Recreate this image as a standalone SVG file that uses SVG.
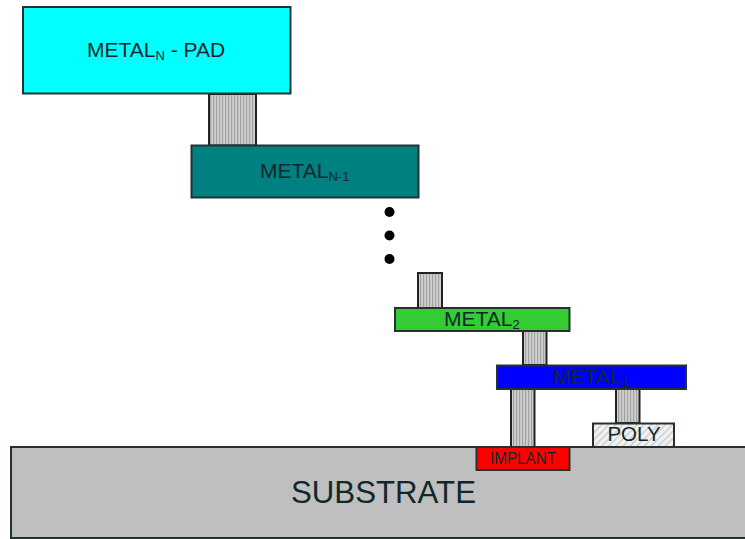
<svg xmlns="http://www.w3.org/2000/svg" width="745" height="539" viewBox="0 0 745 539">
<style>
.s{stroke:#263030;stroke-width:2}
.v{fill:url(#vh);stroke:#222;stroke-width:2}
text{font-family:"Liberation Sans",Arial,sans-serif;fill:#10282c}
</style>
<defs>
<pattern id="vh" width="3" height="8" patternUnits="userSpaceOnUse"><rect width="3" height="8" fill="#cfcfcf"/><rect width="1.200" height="8" fill="#a2a2a2"/></pattern>
<pattern id="dh" width="5" height="5" patternUnits="userSpaceOnUse" patternTransform="rotate(45)"><rect width="5" height="5" fill="#f2f2f2"/><rect width="1.500" height="5" fill="#cdcdcd"/></pattern>
</defs>
<rect width="745" height="539" fill="#fff"/>
<g id="connectors">
<rect class="v" x="209" y="94" width="47" height="51.500"/>
<rect class="v" x="418" y="273" width="24" height="35"/>
<rect class="v" x="523" y="331" width="23.500" height="34"/>
<rect class="v" x="511" y="389" width="23.500" height="58"/>
<rect class="v" x="616" y="389" width="23.500" height="34"/>
</g>
<g id="substrate"><path class="s" d="M745 447H11V538H745" fill="#bfbfbf"/><text x="291" y="503" font-size="32" textLength="185" lengthAdjust="spacingAndGlyphs" fill="#1a1a1a">SUBSTRATE</text></g>
<g id="metal-n-pad"><rect class="s" x="23" y="7" width="267.500" height="86.500" fill="#00ffff"/><text x="87" y="56.500" font-size="21">METAL<tspan font-size="13" dy="3">N</tspan><tspan dy="-3"> - PAD</tspan></text></g>
<g id="metal-n-1"><rect class="s" x="191.500" y="145.500" width="227" height="52" fill="#008080"/><text x="260" y="177.500" font-size="21">METAL<tspan font-size="13" dy="3">N-1</tspan></text></g>
<g id="dots"><circle cx="389.500" cy="212" r="5" fill="#000"/><circle cx="389.500" cy="235.500" r="5" fill="#000"/><circle cx="389.500" cy="259" r="5" fill="#000"/></g>
<g id="metal-2"><rect class="s" x="395" y="308" width="174.500" height="23" fill="#33cc33"/><text x="444" y="326" font-size="21" fill="#0c4a1c">METAL<tspan font-size="13" dy="3">2</tspan></text></g>
<g id="metal-1"><rect class="s" x="497" y="365.500" width="189" height="23.500" fill="#0000ff"/><text x="553" y="384" font-size="21" fill="#0a0a9a">METAL<tspan font-size="13" dy="3">1</tspan></text></g>
<g id="poly"><rect class="s" x="593" y="423.500" width="81" height="23.500" fill="url(#dh)"/><text x="634" y="441" font-size="20.500" text-anchor="middle" fill="#222">POLY</text></g>
<g id="implant"><rect class="s" x="476.500" y="447" width="93" height="23" fill="#ff0000"/><text x="523" y="463.500" font-size="16" text-anchor="middle" textLength="66" lengthAdjust="spacingAndGlyphs" fill="#8f1010">IMPLANT</text></g>
</svg>
